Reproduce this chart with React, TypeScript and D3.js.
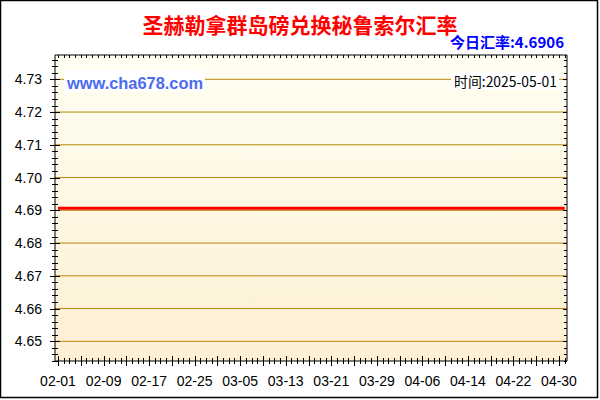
import React from "react";
import * as d3 from "d3";

const titleText = "圣赫勒拿群岛磅兑换秘鲁索尔汇率";
const todayLabel = "今日汇率:4.6906";
const timeLabel = "时间:2025-05-01";
const watermark = "www.cha678.com";

const rateDates = [
  "2025-02-01", "2025-02-09", "2025-02-17", "2025-02-25", "2025-03-05", "2025-03-13",
  "2025-03-21", "2025-03-29", "2025-04-06", "2025-04-14", "2025-04-22", "2025-04-30", "2025-05-01",
];
const rateValues = [
  4.6906, 4.6906, 4.6906, 4.6906, 4.6906, 4.6906,
  4.6906, 4.6906, 4.6906, 4.6906, 4.6906, 4.6906, 4.6906,
];
const yTickValues = [4.65, 4.66, 4.67, 4.68, 4.69, 4.70, 4.71, 4.72, 4.73];
const xTickLabels = ["02-01", "02-09", "02-17", "02-25", "03-05", "03-13", "03-21", "03-29", "04-06", "04-14", "04-22", "04-30"];

const W = 600;
const H = 400;
const PL = 55, PR = 567, PT = 55, PB = 361;

export default function App() {
  const parse = d3.timeParse("%Y-%m-%d");
  const start = parse("2025-02-01")!;
  const x = d3.scaleTime()
    .domain([start, d3.timeDay.offset(start, 88)])
    .range([58, 559]);
  const y = d3.scaleLinear().domain([4.65, 4.73]).range([341.3, 79.3]);

  const days = d3.timeDay.range(start, d3.timeDay.offset(start, 90)).filter((d) => x(d) <= PR);
  const yMinor = d3.range(4.644, 4.7376, 0.002).filter((v) => y(v) >= PT - 0.5 && y(v) <= PB + 0.5);

  const pts = rateDates.map((d, i) => [x(parse(d)!), y(rateValues[i])] as [number, number]);
  const line = d3.line<[number, number]>().x((p) => p[0]).y((p) => p[1]);

  const labelDates = xTickLabels.map((l) => parse("2025-" + l)!);
  const font = "Arial, 'Liberation Sans', sans-serif";
  const cjk = "'Noto Sans CJK SC', sans-serif";

  return (
    <svg width={W} height={H} style={{ position: "absolute", left: 0, top: 0, display: "block" }}>
      <defs>
        <linearGradient id="bg" x1="0" y1="0" x2="0" y2="1">
          <stop offset="0" stopColor="#FFFFF2" />
          <stop offset="1" stopColor="#FDEFD4" />
        </linearGradient>
      </defs>
      <rect x={0} y={0} width={W} height={H} fill="#fff" />
      <rect x={0.5} y={0.5} width={597} height={397} fill="none" stroke="#000" strokeWidth={1.5} />
      <text x={300} y={33} textAnchor="middle" fontFamily={cjk} fontWeight="bold" fontSize={21} fill="#FF0000">{titleText}</text>
      <text x={564} y={48} textAnchor="end" fontFamily={cjk} fontWeight="bold" fontSize={15} fill="#0000FF">{todayLabel}</text>

      <rect x={PL} y={PT} width={PR - PL} height={PB - PT} fill="url(#bg)" />
      {yTickValues.map((v) => (
        <line key={"g" + v} x1={PL} x2={PR} y1={y(v)} y2={y(v)} stroke="#B8860B" strokeWidth={1} />
      ))}

      <path d={line(pts) || ""} fill="none" stroke="#FF0000" strokeWidth={3} />

      <rect x={64} y={70} width={141} height={22} fill="#fff" />
      <text x={67} y={89} fontFamily={font} fontWeight="bold" fontSize={16.4} fill="#4D6BF0">{watermark}</text>
      <rect x={451} y={72} width={108} height={18} fill="#fff" />
      <text x={454} y={86.5} fontFamily={cjk} fontSize={13.9} fill="#000">{timeLabel}</text>

      <line x1={PL} x2={PL} y1={PT} y2={PB} stroke="#000" />
      <line x1={PR} x2={PR} y1={PT} y2={PB} stroke="#000" />
      <line x1={PL} x2={PR} y1={PT} y2={PT} stroke="#000" />
      <line x1={PL} x2={PR} y1={PB} y2={PB} stroke="#000" />

      {yMinor.map((v, i) => {
        const major = yTickValues.some((t) => Math.abs(t - v) < 1e-6);
        const yy = Math.round(y(v)) + 0.5;
        return (
          <g key={"yt" + i}>
            <line x1={PL - (major ? 5 : 3)} x2={PL + (major ? 5 : 3)} y1={yy} y2={yy} stroke="#000" />
            <line x1={PR - (major ? 4 : 3)} x2={PR} y1={yy} y2={yy} stroke="#000" />
          </g>
        );
      })}
      {days.map((d, i) => {
        const major = i % 4 === 0;
        const xx = Math.round(x(d)) + 0.5;
        return (
          <g key={"xt" + i}>
            <line x1={xx} x2={xx} y1={PB - (major ? 5 : 3)} y2={PB + (major ? 5 : 3)} stroke="#000" />
            <line x1={xx} x2={xx} y1={PT} y2={PT + 3} stroke="#000" />
          </g>
        );
      })}

      {yTickValues.map((v) => (
        <text key={"yl" + v} x={42} y={y(v) + 5} textAnchor="end" fontFamily={font} fontSize={14} fill="#000">{v.toFixed(2)}</text>
      ))}
      {labelDates.map((d, i) => (
        <text key={"xl" + i} x={x(d)} y={385.5} textAnchor="middle" fontFamily={font} fontSize={14} fill="#000">{xTickLabels[i]}</text>
      ))}
    </svg>
  );
}
